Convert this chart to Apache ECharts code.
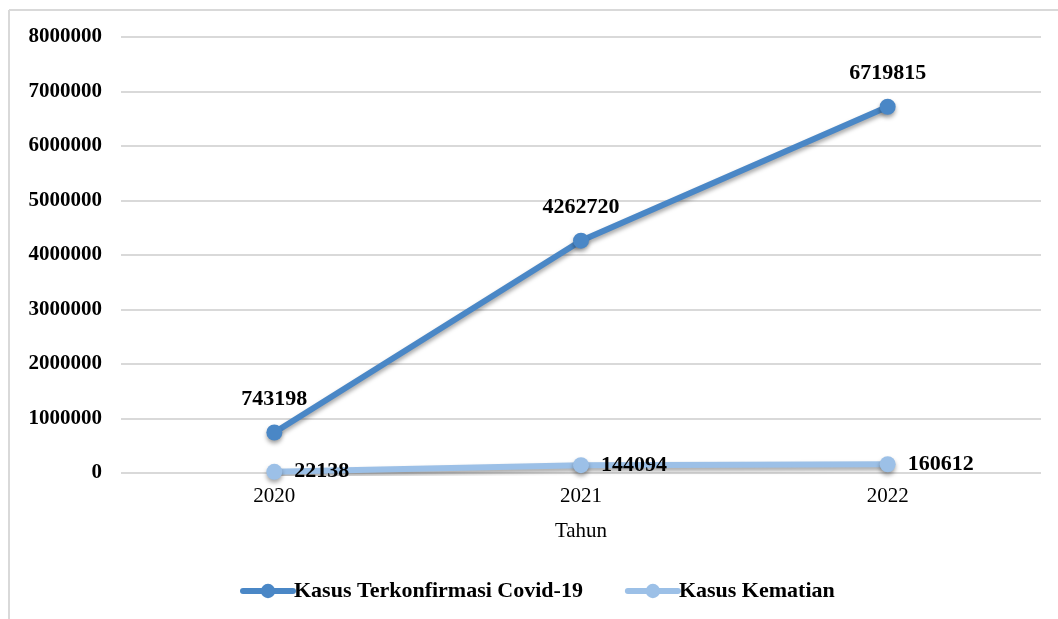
<!DOCTYPE html>
<html>
<head>
<meta charset="utf-8">
<script src="https://cdn.jsdelivr.net/npm/echarts@6/dist/echarts.min.js"></script>
<style>
  html, body { margin: 0; padding: 0; background: #fff; }
  #chart { width: 1058px; height: 619px; }
</style>
</head>
<body>
<div id="chart"></div>
<script>
var years = ['2020', '2021', '2022']
var kasusTerkonfirmasi = [743198, 4262720, 6719815]
var kasusKematian = [22138, 144094, 160612]
var seriesNames = ['Kasus Terkonfirmasi Covid-19', 'Kasus Kematian']

var serif = '"Liberation Serif", "Times New Roman", serif'
var darkBlue = '#4a87c6'
var lightBlue = '#9cc0e7'

var chart = echarts.init(document.getElementById('chart'))

function lineSeries(name, data, color, labelPos) {
  return {
    name: name,
    type: 'line',
    data: data,
    symbol: 'circle',
    symbolSize: 16,
    color: color,
    lineStyle: {
      width: 6,
      color: color,
      cap: 'round',
      shadowColor: 'rgba(0,0,0,0.35)',
      shadowBlur: 4,
      shadowOffsetY: 3
    },
    itemStyle: {
      color: color,
      shadowColor: 'rgba(0,0,0,0.35)',
      shadowBlur: 4,
      shadowOffsetY: 3
    },
    label: {
      show: true,
      position: labelPos,
      distance: labelPos === 'top' ? 14 : 12,
      color: '#000',
      fontFamily: serif,
      fontWeight: 'bold',
      fontSize: 22
    },
    emphasis: { disabled: true }
  }
}

chart.setOption({
  animation: false,
  backgroundColor: '#fff',
  graphic: [
    { type: 'line', shape: { x1: 9, y1: 10, x2: 1058, y2: 10 }, style: { stroke: '#d9d9d9', lineWidth: 2 } },
    { type: 'line', shape: { x1: 9, y1: 10, x2: 9, y2: 619 }, style: { stroke: '#d9d9d9', lineWidth: 2 } }
  ],
  grid: {
    left: 121,
    right: 17,
    top: 37,
    bottom: 146
  },
  legend: {
    data: seriesNames,
    left: 235,
    top: 575,
    itemWidth: 50,
    itemHeight: 18,
    itemGap: 42,
    lineStyle: { width: 6, cap: 'round', shadowBlur: 0, shadowOffsetY: 0 },
    itemStyle: { shadowBlur: 0, shadowOffsetY: 0 },
    textStyle: {
      color: '#000',
      fontFamily: serif,
      fontWeight: 'bold',
      fontSize: 22,
      padding: [0, 0, 0, -4]
    }
  },
  xAxis: {
    type: 'category',
    data: years,
    name: 'Tahun',
    nameLocation: 'middle',
    nameGap: 48,
    nameTextStyle: { color: '#000', fontFamily: serif, fontSize: 21 },
    axisLine: { show: false },
    axisTick: { show: false },
    axisLabel: { color: '#000', fontFamily: serif, fontSize: 21, margin: 13 }
  },
  yAxis: {
    type: 'value',
    min: 0,
    max: 8000000,
    interval: 1000000,
    axisLine: { show: false },
    axisTick: { show: false },
    splitLine: { lineStyle: { color: '#d9d9d9', width: 2 } },
    axisLabel: {
      color: '#000',
      fontFamily: serif,
      fontWeight: 'bold',
      fontSize: 21,
      margin: 19,
      formatter: function (v) { return String(v) }
    }
  },
  series: [
    lineSeries(seriesNames[0], kasusTerkonfirmasi, darkBlue, 'top'),
    lineSeries(seriesNames[1], kasusKematian, lightBlue, 'right')
  ]
})
</script>
</body>
</html>
